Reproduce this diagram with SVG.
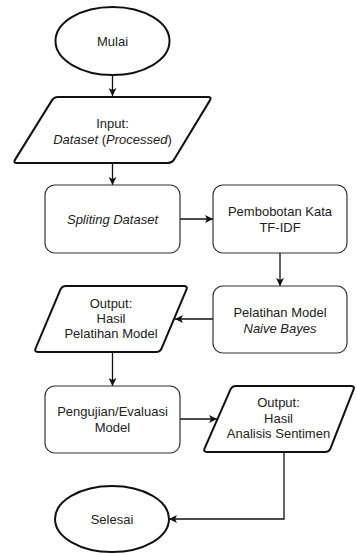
<svg xmlns="http://www.w3.org/2000/svg" width="357" height="554" viewBox="0 0 357 554">
<defs>
<marker id="arr" viewBox="0 0 10 10" refX="10" refY="5" markerWidth="8" markerHeight="8" markerUnits="userSpaceOnUse" orient="auto">
<path d="M0,0 L10,5 L0,10 L2.5,5 Z" fill="#111"/>
</marker>
<style>
.bold{fill:#fff;stroke:#111;stroke-width:2;stroke-linejoin:round}
.box{fill:#fff;stroke:#333;stroke-width:1.2}
.t{font-family:"Liberation Sans",Arial,sans-serif;font-size:13px;fill:#222;text-anchor:middle}
.i{font-style:italic}
.c{fill:none;stroke:#111;stroke-width:1.3;marker-end:url(#arr)}
</style>
</defs>
<g id="connectors">
<path class="c" d="M112.5,75 V96"/>
<path class="c" d="M112.5,163 V185"/>
<path class="c" d="M180,219 H213"/>
<path class="c" d="M280,253 V286"/>
<path class="c" d="M213,319 H175"/>
<path class="c" d="M112.5,352 V386"/>
<path class="c" d="M180,419 H217"/>
<path class="c" d="M284,452 V519 H169"/>
</g>
<g id="mulai">
<ellipse class="bold" cx="112.5" cy="41" rx="57" ry="34"/>
<text class="t" x="112.5" y="45.5">Mulai</text>
</g>
<g id="input">
<path class="bold" d="M208,97 Q212,97 209.9,100.4 L174.1,159.6 Q172,163 168,163 L17,163 Q13,163 15.1,159.6 L51.9,100.4 Q54,97 58,97 Z"/>
<text class="t" x="112.5" y="127.5">Input:</text>
<text class="t" x="112.5" y="143.5"><tspan class="i">Dataset</tspan> (<tspan class="i">Processed</tspan>)</text>
</g>
<g id="spliting">
<rect class="box" x="45" y="185" width="135" height="68" rx="10"/>
<text class="t i" x="112.5" y="223.5">Spliting Dataset</text>
</g>
<g id="pembobotan">
<rect class="box" x="213" y="185" width="134" height="68" rx="10"/>
<text class="t" x="280" y="215.5">Pembobotan Kata</text>
<text class="t" x="280" y="231.5">TF-IDF</text>
</g>
<g id="pelatihan">
<rect class="box" x="213" y="286" width="134" height="67" rx="10"/>
<text class="t" x="280" y="316.5">Pelatihan Model</text>
<text class="t i" x="280" y="332.5">Naive Bayes</text>
</g>
<g id="output1">
<path class="bold" d="M184,286 Q188,286 186.4,289.7 L161.6,348.3 Q160,352 156,352 L38,352 Q34,352 35.6,348.3 L60.4,289.7 Q62,286 66,286 Z"/>
<text class="t" x="111" y="307.5">Output:</text>
<text class="t" x="111" y="322.5">Hasil</text>
<text class="t" x="111" y="337.5">Pelatihan Model</text>
</g>
<g id="pengujian">
<rect class="box" x="45" y="386" width="135" height="67" rx="10"/>
<text class="t" x="112.5" y="415.5">Pengujian/Evaluasi</text>
<text class="t" x="112.5" y="431.5">Model</text>
</g>
<g id="output2">
<path class="bold" d="M351,386 Q355,386 353.5,389.7 L330.5,448.3 Q329,452 325,452 L207,452 Q203,452 204.6,448.3 L230.4,389.7 Q232,386 236,386 Z"/>
<text class="t" x="278.5" y="406.5">Output:</text>
<text class="t" x="278.5" y="422.5">Hasil</text>
<text class="t" x="278.5" y="437.5">Analisis Sentimen</text>
</g>
<g id="selesai">
<ellipse class="bold" cx="112" cy="519" rx="57" ry="33"/>
<text class="t" x="112" y="523.5">Selesai</text>
</g>
</svg>
